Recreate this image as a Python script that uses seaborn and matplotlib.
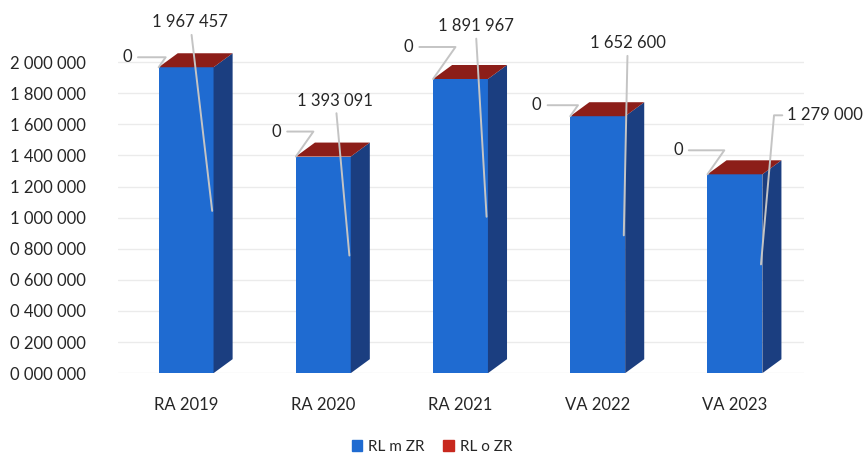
import matplotlib
matplotlib.use("Agg")
import matplotlib.pyplot as plt
from matplotlib.patches import Polygon, Patch
from matplotlib.text import OffsetFrom
from matplotlib.ticker import FuncFormatter
import seaborn as sns
import pandas as pd

# data
categories = ["RA 2019", "RA 2020", "RA 2021", "VA 2022", "VA 2023"]
rl_m_zr = [1967457, 1393091, 1891967, 1652600, 1279000]
rl_o_zr = [0, 0, 0, 0, 0]
series_names = ["RL m ZR", "RL o ZR"]
y_ticks = list(range(0, 2000001, 200000))

sns.set_theme(style="white")
plt.rcParams["font.family"] = ["Lato", "DejaVu Sans"]

front_blue = "#1F6BD1"
side_blue = "#1B3E80"
top_red = "#8C1E19"
legend_red = "#C8281E"
line_grey = "#C4C4C4"
text_col = "#262626"

df = pd.DataFrame({"Period": categories, "Value": rl_m_zr})

fig = plt.figure(figsize=(8.64, 4.59), dpi=100)
ax = fig.add_axes([0.136, 0.187, 0.794, 0.813])

bar_w = 0.40
sns.barplot(data=df, x="Period", y="Value", color=front_blue, saturation=1,
            width=bar_w, ax=ax, zorder=3, linewidth=0)

# fake 3D: side and top faces built from the seaborn bars
depth_x = 0.139
depth_y = 90000
totals = [m + o for m, o in zip(rl_m_zr, rl_o_zr)]
for bar, top_val in zip(list(ax.patches), totals):
    x0 = bar.get_x()
    x1 = x0 + bar.get_width()
    ax.add_patch(Polygon([(x1, 0), (x1 + depth_x, depth_y),
                          (x1 + depth_x, top_val + depth_y), (x1, top_val)],
                         closed=True, color=side_blue, lw=0, zorder=3))
    ax.add_patch(Polygon([(x0, top_val), (x0 + depth_x, top_val + depth_y),
                          (x1 + depth_x, top_val + depth_y), (x1, top_val)],
                         closed=True, color=top_red, lw=0, zorder=4))

# data labels with leader lines (offsets in pixels from the bar top)
value_label_px = [(4, 45), (12, 56), (15, 53), (30, 73), (90, 59)]
value_conn = ["arc3", "arc3", "arc3", "arc3", "angle,angleA=0,angleB=85,rad=0"]
zero_label_px = [(-59, 10), (-47, 25), (-52, 32), (-61, 11), (-57, 24)]
for i, (m, o) in enumerate(zip(rl_m_zr, rl_o_zr)):
    top = m + o
    ax.annotate(f"{m:,}".replace(",", " "),
                xy=(i + bar_w / 2 - 0.01, m / 2 + 60000),
                xytext=value_label_px[i],
                textcoords=OffsetFrom(ax.transData, (i, top), unit="pixels"),
                ha="center", va="center", fontsize=12, color=text_col,
                arrowprops=dict(arrowstyle="-", color=line_grey, lw=1.4,
                                shrinkA=1, shrinkB=0,
                                connectionstyle=value_conn[i]),
                zorder=6, annotation_clip=False)
    ax.annotate(f"{o:,}".replace(",", " "),
                xy=(i - bar_w / 2, top),
                xytext=zero_label_px[i],
                textcoords=OffsetFrom(ax.transData, (i, top), unit="pixels"),
                ha="center", va="center", fontsize=12, color=text_col,
                arrowprops=dict(arrowstyle="-", color=line_grey, lw=1.4,
                                shrinkA=2, shrinkB=0,
                                connectionstyle="angle,angleA=0,angleB=55,rad=0"),
                zorder=6, annotation_clip=False)


def axis_label(v, pos):
    s = f"{int(round(v)):07d}"
    return f"{s[0]} {s[1:4]} {s[4:]}"


ax.set_yticks(y_ticks)
ax.yaxis.set_major_formatter(FuncFormatter(axis_label))
ax.set_ylim(0, 2.4e6)
ax.set_xlim(-0.5, 4.5)
ax.set_xlabel("")
ax.set_ylabel("")
ax.yaxis.grid(True, color="#EBEBEB", lw=1)
ax.set_axisbelow(True)
ax.tick_params(axis="y", length=0, pad=23, labelsize=12, labelcolor=text_col)
ax.tick_params(axis="x", length=0, pad=17, labelsize=12, labelcolor=text_col)
sns.despine(ax=ax, left=True, bottom=True)

handles = [Patch(color=front_blue), Patch(color=legend_red)]
fig.legend(handles, series_names, loc="center", bbox_to_anchor=(0.5, 12 / 459),
           ncol=2, frameon=False, handlelength=0.7, handleheight=0.7,
           handletextpad=0.4, columnspacing=1.2, fontsize=11, labelcolor=text_col)

fig.savefig("out.png", dpi=100)
